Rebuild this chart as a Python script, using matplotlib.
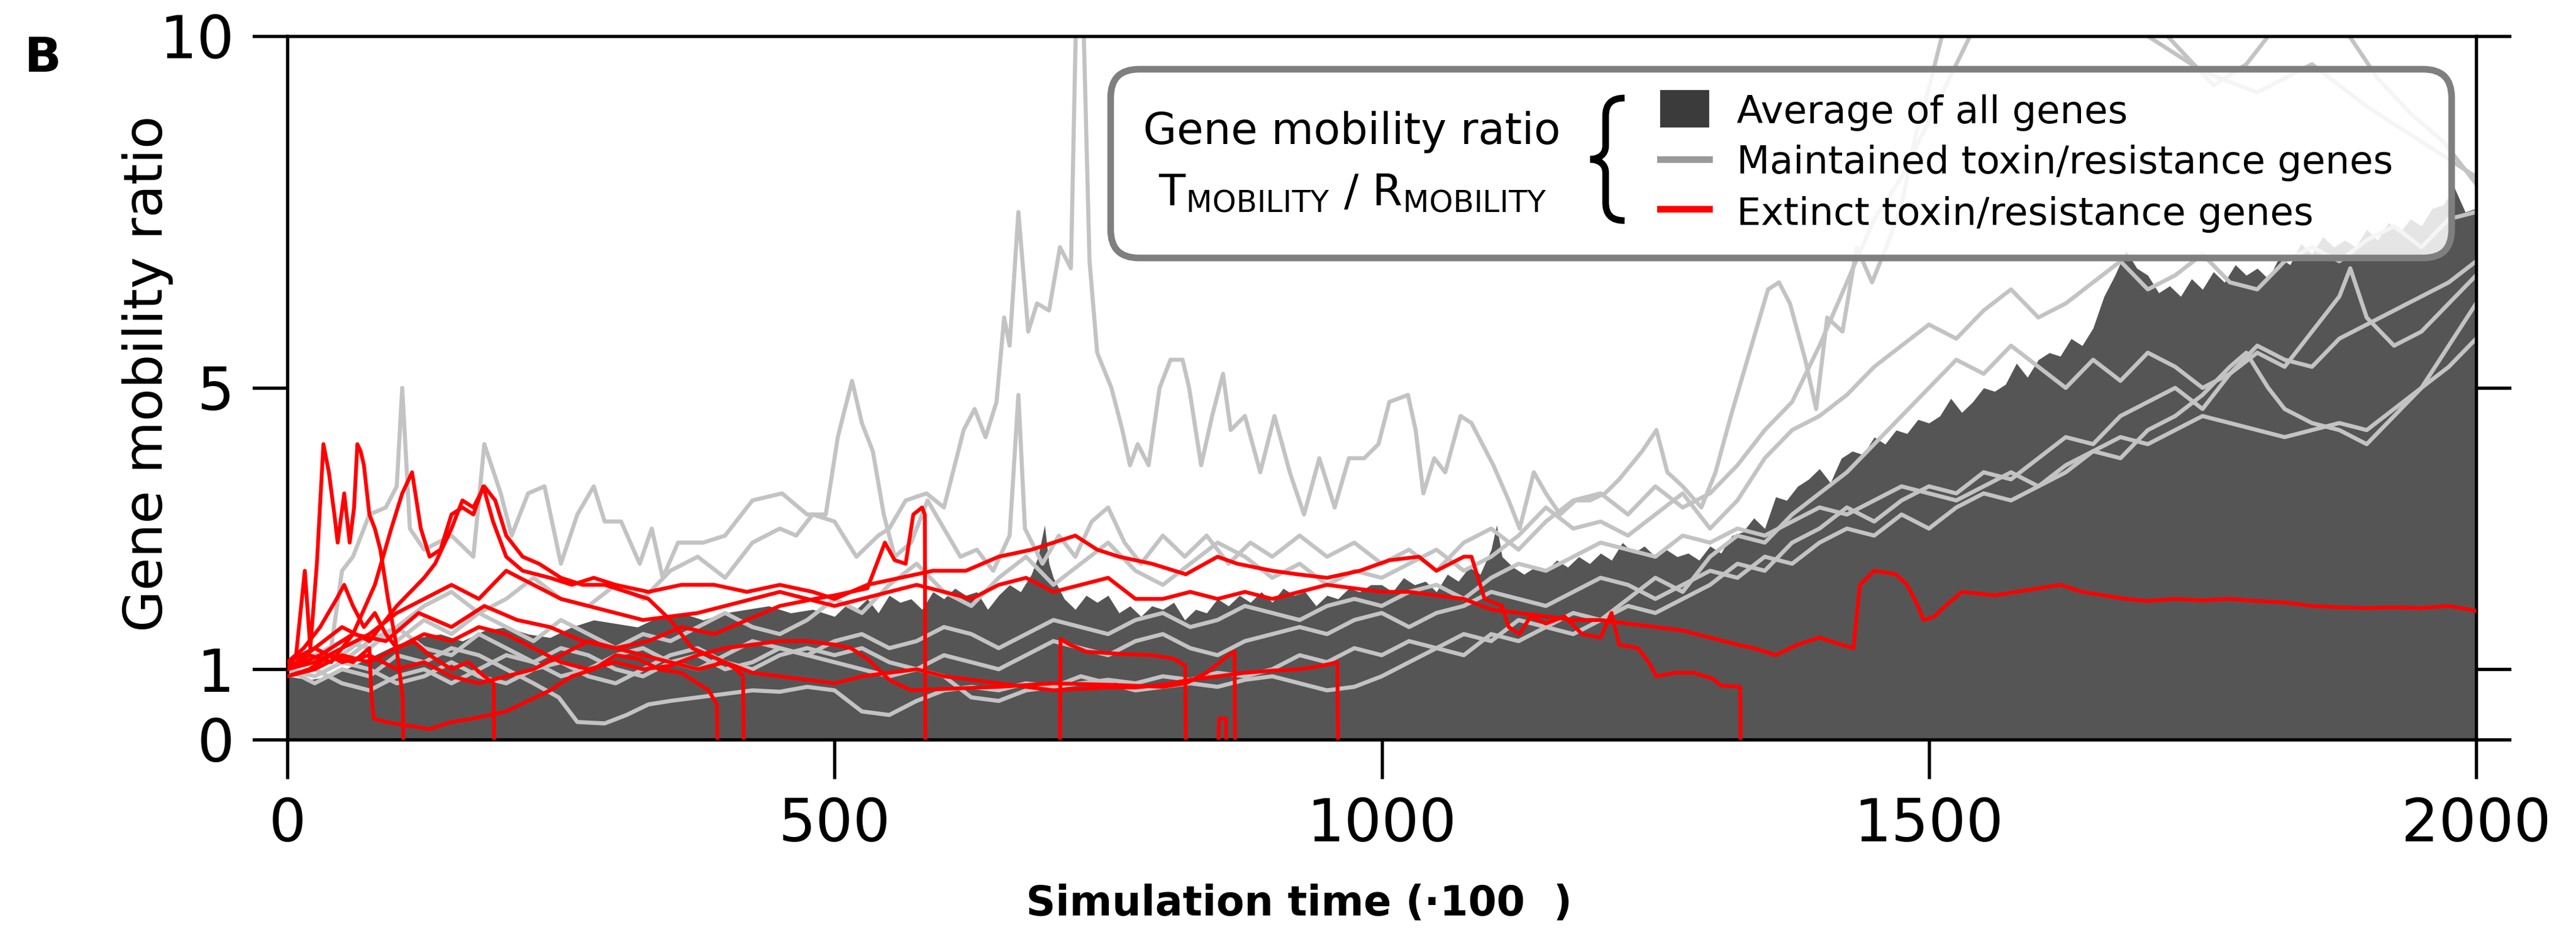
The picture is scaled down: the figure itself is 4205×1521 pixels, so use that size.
import matplotlib
matplotlib.use("Agg")
import matplotlib.pyplot as plt
from matplotlib.patches import FancyBboxPatch, Rectangle, PathPatch
from matplotlib.path import Path
from matplotlib.lines import Line2D

plt.rcParams['font.family'] = ['DejaVu Sans']
plt.rcParams['mathtext.fontset'] = 'dejavusans'

# ---------------- data (time in units of 100 steps, value = mobility ratio) -------------
x_ticks = [0, 500, 1000, 1500, 2000]
y_ticks = [0, 1, 5, 10]

# average of all genes (filled area)
average_all = [(0,0.9),(20,0.85),(40,0.9),(60,1.05),(80,1.2),(100,1.35),(120,1.45),(140,1.5),(160,1.4),(180,1.55),
               (200,1.6),(220,1.5),(240,1.45),(260,1.6),(280,1.7),(300,1.65),(320,1.6),(340,1.75),(360,1.8),(380,1.7),
               (400,1.8),(420,1.85),(440,1.9),(460,1.8),(480,1.85),
               (500,1.75),(510,1.9),(520,1.85),(530,2.0),(540,1.8),(550,2.05),(560,1.95),(570,2.0),(580,1.85),(590,2.1),
               (600,2.0),(610,2.15),(620,2.05),(630,2.1),(640,1.85),(650,2.05),(660,2.2),(670,2.1),(680,2.35),(686,2.6),
               (692,3.05),(696,2.5),(700,2.3),(710,2.0),(720,1.85),(730,2.05),(740,1.95),(750,2.05),(760,1.8),(770,1.9),
               (780,1.75),(790,1.9),(800,1.85),(810,1.95),(820,1.7),(830,1.85),(840,1.8),(850,2.0),(860,1.9),(870,2.05),
               (880,1.95),(890,2.1),(900,1.95),(910,2.15),(920,2.05),(930,2.1),(940,1.9),(950,2.05),(960,2.0),(970,2.15),
               (980,2.1),(990,2.2),
               (1000,2.2),(1010,2.1),(1020,2.3),(1030,2.2),(1040,2.25),(1050,2.1),(1060,2.35),(1070,2.25),(1080,2.45),
               (1090,2.35),(1100,2.7),(1105,3.05),(1110,2.6),(1120,2.45),(1130,2.35),(1140,2.45),(1150,2.4),(1160,2.55),
               (1170,2.45),(1180,2.6),(1190,2.5),(1200,2.65),(1210,2.55),(1220,2.8),(1230,2.65),(1240,2.75),(1250,2.6),
               (1260,2.7),(1270,2.6),(1280,2.65),(1290,2.55),
               (1300,2.75),(1310,2.65),(1320,2.9),(1330,2.95),(1340,3.15),(1350,3.0),(1360,3.45),(1370,3.4),(1380,3.6),
               (1390,3.7),(1400,3.85),(1410,3.65),(1420,4.0),(1430,4.1),(1440,4.05),(1450,4.3),(1460,4.2),(1470,4.4),
               (1480,4.35),(1490,4.55),(1500,4.5),(1510,4.6),(1520,4.85),(1530,4.65),(1540,4.8),(1550,5.0),(1560,4.95),
               (1570,5.05),(1580,5.35),(1590,5.15),(1600,5.4),(1610,5.5),(1620,5.45),(1630,5.7),(1640,5.6),(1650,5.85),
               (1660,6.3),(1670,6.6),(1680,6.95),(1690,6.7),(1700,6.6),(1710,6.35),(1720,6.45),(1730,6.3),(1740,6.55),
               (1750,6.4),(1760,6.65),(1770,6.5),(1780,6.75),(1790,6.6),(1800,6.7),(1810,6.55),(1820,6.85),(1830,6.75),
               (1840,7.05),(1850,6.9),(1860,7.15),(1870,7.0),(1880,7.1),(1890,7.0),(1900,7.25),(1910,7.1),(1920,7.35),
               (1930,7.2),(1940,7.4),(1950,7.3),(1960,7.55),(1970,7.6),(1980,7.85),(1990,7.5),(2000,7.55)]

# maintained toxin/resistance genes (grey lines)
maintained_1 = [(0,1.0),(20,1.1),(40,1.3),(50,2.4),(60,2.6),(75,3.2),(90,3.3),(100,3.6),(105,5.0),(112,3.0),(125,2.7),
                (150,2.9),(170,2.6),(180,4.2),(195,3.5),(205,2.9),(220,3.5),(235,3.6),(250,2.5),(265,3.2),(280,3.6),
                (290,3.1),(305,3.1),(322,2.5),(333,3.0),(343,2.3),(357,2.8),(380,2.8),(400,2.9),(425,3.4),(452,3.5),
                (475,3.2),(492,3.2),(503,4.3),(516,5.1),(525,4.5),(535,4.1),(545,3.2),(555,2.6),(570,2.8),(585,3.4),
                (600,3.0),(615,2.6),(630,2.7),(645,2.4),(660,2.9),(668,4.9),(674,3.0),(690,2.5),(705,2.9),(720,2.6),
                (735,3.1),(750,3.3),(765,2.8),(780,2.5),(800,2.9),(820,2.6),(840,2.9),(860,2.5),(880,2.8),(900,2.6),
                (925,2.9),(950,2.6),(975,2.8),(1000,2.5),(1025,2.7),(1050,2.4),(1075,2.8),(1100,3.0),(1125,2.7),(1150,3.1),
                (1175,3.4),(1200,3.5),(1225,3.2),(1250,3.6),(1275,3.3),(1300,3.5),(1325,3.9),(1350,4.4),(1375,4.8),(1400,5.6),
                (1425,6.5),(1450,7.4),(1475,8.0),(1500,8.8),(1525,9.6),(1550,10.4),(1600,10.8),(1650,10.5),(1700,10.0),
                (1750,9.5),(1800,9.2),(1850,9.6),(1900,9.0),(1950,8.5),(2000,8.0)]

maintained_2 = [(0,1.0),(25,1.2),(50,1.4),(75,1.3),(100,1.6),(125,1.9),(150,2.1),(175,1.8),(200,2.0),(225,2.3),(250,2.0),
                (275,1.9),(300,2.2),(325,2.0),(350,2.4),(375,2.6),(400,2.3),(425,2.8),(450,3.0),(465,2.9),(480,3.2),(500,3.1),
                (520,2.6),(540,2.9),(550,3.0),(565,3.4),(584,3.5),(600,3.3),(618,4.4),(628,4.7),(638,4.3),(648,4.8),(655,6.0),
                (660,5.6),(668,7.5),(677,5.8),(685,6.2),(696,6.1),(706,7.0),(716,6.7),(721,10.5),(727,10.5),(733,6.8),(740,5.5),
                (753,5.0),(763,4.4),(770,3.9),(777,4.2),(787,3.9),(797,5.0),(807,5.4),(818,5.4),(824,5.0),(835,3.9),(845,4.6),
                (855,5.2),(862,4.4),(875,4.6),(889,3.8),(902,4.6),(916,3.8),(929,3.2),(943,4.0),(957,3.3),(970,4.0),(984,4.0),
                (997,4.2),(1007,4.8),(1024,4.9),(1031,4.4),(1038,3.5),(1048,4.0),(1058,3.8),(1072,4.6),(1082,4.5),(1092,4.2),
                (1102,3.9),(1116,3.4),(1126,3.0),(1139,3.8),(1150,3.5),(1163,3.2),(1177,3.4),(1190,3.4),(1204,3.5),(1217,3.7),
                (1238,4.1),(1251,4.4),(1261,3.8),(1275,3.6),(1292,3.3),(1305,3.8),(1319,4.6),(1336,5.5),(1353,6.4),(1363,6.5),
                (1373,6.2),(1387,5.4),(1397,4.7),(1407,6.0),(1421,5.8),(1434,7.0),(1448,6.5),(1461,7.0),(1475,7.6),(1488,8.6),
                (1499,9.2),(1515,10.2),(1530,10.8),(1560,11.0),(1600,11.0),(1650,10.8),(1700,10.3),(1730,9.8),
                (1760,9.3),(1790,9.6),(1820,10.2),(1850,10.6),(1880,10.1),(1910,9.4),(1940,8.9),(1970,8.5),(2000,7.9)]

maintained_3 = [(0,0.9),(25,1.0),(50,1.2),(75,1.5),(100,1.4),(125,1.7),(150,1.5),(175,1.8),(200,1.6),(225,1.4),(250,1.7),
                (275,1.5),(300,1.3),(325,1.5),(350,1.4),(375,1.6),(400,1.8),(425,1.6),(450,1.5),(475,1.7),(500,2.0),(525,1.8),
                (550,2.2),(575,2.5),(600,2.1),(625,1.9),(650,2.3),(675,2.6),(700,2.2),(725,2.5),(750,2.8),(775,2.4),(800,2.2),
                (825,2.5),(850,2.8),(875,2.6),(900,2.3),(925,2.5),(950,2.2),(975,2.4),(1000,2.3),(1025,2.5),(1050,2.7),(1075,2.4),
                (1100,2.6),(1125,2.9),(1150,3.3),(1175,3.0),(1200,3.1),(1225,2.9),(1250,3.2),(1275,3.5),(1300,3.0),(1325,3.4),
                (1350,4.0),(1375,4.4),(1400,4.6),(1425,4.9),(1450,5.3),(1475,5.6),(1500,5.9),(1525,5.7),(1550,6.1),(1575,6.4),
                (1600,6.0),(1625,6.2),(1650,6.5),(1675,6.8),(1700,6.4),(1725,6.6),(1750,6.9),(1775,6.5),(1800,6.4),(1825,6.8),
                (1850,7.0),(1875,6.8),(1900,7.1),(1925,7.3),(1950,7.0),(1975,7.4),(2000,7.5)]

maintained_4 = [(0,1.0),(25,0.8),(50,1.0),(75,0.9),(100,1.2),(125,1.1),(150,1.3),(175,1.2),(200,1.0),(225,0.8),(248,0.6),
                (265,0.25),(290,0.23),(310,0.35),(330,0.5),(350,0.55),(375,0.6),(400,0.65),(425,0.7),(450,0.68),(475,0.75),
                (500,0.7),(525,0.4),(550,0.35),(575,0.55),(600,0.7),(625,0.75),(650,0.7),(675,0.8),(700,0.75),(725,0.8),
                (750,0.85),(775,0.8),(800,0.9),(825,0.85),(850,0.95),(875,0.9),(900,1.0),(925,1.2),(950,1.1),(975,1.3),
                (1000,1.2),(1025,1.4),(1050,1.3),(1075,1.5),(1100,1.4),(1125,1.7),(1150,1.6),(1175,1.5),(1200,1.7),(1225,1.9),
                (1250,1.8),(1275,2.0),(1300,2.2),(1325,2.5),(1350,2.4),(1375,2.8),(1400,3.0),(1425,3.3),(1450,3.1),(1475,3.4),
                (1500,3.6),(1525,3.5),(1550,3.8),(1575,3.7),(1600,4.0),(1625,4.3),(1650,4.2),(1675,4.6),(1700,4.8),(1725,5.0),
                (1750,4.7),(1775,5.2),(1800,5.5),(1825,5.3),(1850,5.8),(1875,6.3),(1885,6.7),(1900,6.0),(1925,5.6),(1950,5.8),
                (1975,6.2),(2000,6.6)]

maintained_5 = [(0,1.1),(25,1.3),(50,1.1),(75,1.4),(100,1.6),(125,1.3),(150,1.2),(175,1.5),(200,1.3),(225,1.1),(250,1.3),
                (275,1.2),(300,1.0),(325,0.9),(350,1.1),(375,1.2),(400,1.0),(425,1.1),(450,1.3),(475,1.2),(500,1.1),(525,1.0),
                (550,0.9),(575,1.0),(600,1.2),(625,1.1),(650,1.0),(675,1.2),(700,1.4),(725,1.3),(750,1.2),(775,1.4),(800,1.5),
                (825,1.3),(850,1.2),(875,1.4),(900,1.5),(925,1.6),(950,1.5),(975,1.7),(1000,1.8),(1025,1.6),(1050,1.8),(1075,1.9),
                (1100,2.1),(1125,2.0),(1150,1.9),(1175,2.1),(1200,2.3),(1225,2.2),(1250,2.0),(1275,2.2),(1300,2.4),(1325,2.3),
                (1350,2.6),(1375,2.5),(1400,2.8),(1425,3.0),(1450,2.9),(1475,3.2),(1500,3.0),(1525,3.3),(1550,3.5),(1575,3.4),
                (1600,3.6),(1625,3.8),(1650,4.1),(1675,4.0),(1700,4.4),(1725,4.6),(1750,4.9),(1775,5.3),(1790,5.5),(1810,5.0),
                (1825,4.7),(1850,4.5),(1875,4.4),(1900,4.2),(1925,4.6),(1950,5.0),(1975,5.6),(2000,6.2)]

maintained_6 = [(0,0.9),(25,1.0),(50,0.8),(75,0.7),(100,0.9),(125,1.0),(150,0.8),(175,1.0),(200,1.2),(225,1.1),(250,0.9),
                (275,1.0),(300,1.2),(325,1.3),(350,1.1),(375,1.0),(400,1.2),(425,1.4),(450,1.3),(475,1.2),(500,1.4),(525,1.5),
                (550,1.3),(575,1.4),(600,1.6),(625,1.5),(650,1.3),(675,1.5),(700,1.7),(725,1.6),(750,1.5),(775,1.7),(800,1.8),
                (825,1.6),(850,1.7),(875,1.9),(900,1.8),(925,1.7),(950,1.9),(975,2.0),(1000,1.9),(1025,2.1),(1050,2.2),(1075,2.0),
                (1100,2.3),(1125,2.5),(1150,2.4),(1175,2.6),(1200,2.8),(1225,2.7),(1250,2.6),(1275,2.9),(1300,2.8),(1325,3.0),
                (1350,2.9),(1375,3.1),(1400,3.3),(1425,3.2),(1450,3.4),(1475,3.6),(1500,3.5),(1525,3.4),(1550,3.6),(1575,3.8),
                (1600,3.6),(1625,3.9),(1650,4.1),(1675,4.3),(1700,4.2),(1725,4.4),(1750,4.6),(1775,4.5),(1800,4.4),(1825,4.3),
                (1850,4.4),(1875,4.5),(1900,4.4),(1925,4.7),(1950,5.0),(1975,5.3),(2000,5.7)]

maintained_7 = [(0,1.0),(25,0.9),(50,1.1),(75,1.0),(100,0.8),(125,0.9),(150,1.1),(175,0.9),(200,0.8),(225,1.0),(250,1.1),
                (275,0.9),(300,0.8),(325,1.0),(350,1.2),(375,1.3),(400,1.1),(425,1.0),(450,1.2),(475,1.3),(500,1.2),(525,1.3),
                (550,1.1),(575,1.0),(600,0.9),(625,0.6),(650,0.55),(675,0.7),(700,0.75),(725,0.9),(750,0.8),(775,0.7),(800,0.75),
                (825,0.8),(850,0.75),(875,0.85),(900,0.9),(925,0.8),(950,0.7),(975,0.75),(1000,0.9),(1025,1.1),(1050,1.3),
                (1075,1.2),(1100,1.5),(1125,1.4),(1150,1.6),(1175,1.8),(1200,1.7),(1225,2.0),(1250,2.3),(1275,2.1),(1300,2.6),
                (1325,2.9),(1350,2.8),(1375,3.2),(1400,3.5),(1425,3.8),(1450,4.2),(1475,4.6),(1500,5.0),(1525,5.4),(1550,5.2),
                (1575,5.6),(1600,5.3),(1625,5.0),(1650,5.4),(1675,5.1),(1700,5.5),(1725,5.3),(1750,5.0),(1775,5.2),(1800,5.6),
                (1825,5.4),(1850,5.3),(1875,5.7),(1900,5.9),(1925,6.1),(1950,6.3),(1975,6.5),(2000,6.8)]

# extinct toxin/resistance genes (red lines, drop to 0 when extinct)
extinct_1 = [(0,1.0),(8,1.2),(16,2.4),(21,1.3),(27,2.5),(33,4.2),(38,3.8),(43,3.2),(46,2.8),(52,3.5),(57,2.8),(61,3.3),
             (64,4.2),(67,4.1),(70,3.9),(75,3.2),(80,3.0),(85,2.7),(92,2.0),(99,1.4),(105.5,0.6),(106,0)]
extinct_2 = [(0,1.1),(15,1.3),(30,1.6),(45,2.0),(52,2.2),(60,1.9),(70,1.6),(80,1.8),(90,1.5),(100,1.3),(115,1.4),
             (130,1.2),(150,1.0),(165,1.1),(180,0.9),(188.5,0.8),(189,0)]
extinct_3 = [(0,0.9),(20,1.0),(40,1.2),(60,1.1),(75,1.3),(77,0.6),(79,0.3),(90,0.25),(110,0.2),(130,0.15),(150,0.25),
             (170,0.3),(185,0.35),(200,0.4),(220,0.55),(240,0.7),(260,0.9),(280,1.0),(300,1.2),(320,1.15),(340,1.0),
             (360,0.95),(375,0.8),(385,0.7),(392.5,0.5),(393,0)]
extinct_4 = [(0,1.0),(25,1.3),(50,1.6),(75,1.4),(100,1.9),(125,2.3),(135,2.5),(150,3.0),(160,3.4),(170,3.3),(180,3.6),
             (190,3.4),(200,2.9),(215,2.6),(230,2.5),(250,2.3),(270,2.2),(290,2.2),(310,2.1),(330,2.0),(350,1.7),(370,1.3),
             (385,1.2),(400,1.1),(410,1.0),(416.5,0.9),(417,0)]
extinct_5 = [(0,1.0),(30,1.2),(60,1.5),(90,1.4),(120,1.8),(150,1.6),(180,1.9),(210,1.7),(240,1.6),(270,1.4),(300,1.3),
             (330,1.4),(360,1.6),(390,1.5),(420,1.7),(450,1.9),(482,2.0),(500,2.05),(530,2.15),(546,2.8),(555,2.55),
             (565,2.5),(572,3.2),(580,3.3),(582.5,3.2),(583,0)]
extinct_6 = [(706,0),(706.5,1.43),(715,1.35),(730,1.25),(760,1.22),(790,1.2),(810,1.15),(820.5,1.05),(821,0)]
extinct_7 = [(0,0.9),(25,1.0),(50,1.2),(75,1.1),(100,1.3),(125,1.5),(150,1.4),(175,1.6),(200,1.5),(225,1.3),(250,1.1),
             (275,1.0),(300,1.1),(325,1.0),(350,1.05),(375,1.2),(400,1.3),(425,1.35),(450,1.4),(475,1.4),(500,1.35),
             (515,1.3),(530,1.15),(550,0.85),(570,0.7),(600,0.72),(650,0.75),(700,0.8),(750,0.78),(800,0.75),(821,0.8),
             (840,0.95),(860,1.2),(865.5,1.25),(866,0)]
extinct_8 = [(851,0),(851.5,0.3),(857.5,0.3),(858,0)]
extinct_9 = [(0,1.1),(25,1.3),(50,1.1),(75,1.2),(100,1.0),(125,1.1),(150,0.9),(175,0.8),(200,0.9),(225,1.0),(250,1.2),
             (275,1.4),(300,1.3),(325,1.2),(350,1.1),(375,1.0),(400,1.1),(425,0.95),(450,0.9),(475,0.85),(500,0.8),
             (525,0.9),(550,0.95),(575,1.0),(600,0.9),(625,0.85),(650,0.8),(675,0.75),(700,0.7),(725,0.72),(750,0.74),
             (775,0.74),(800,0.78),(825,0.85),(850,0.9),(875,0.95),(900,0.98),(925,1.0),(945,1.05),(959.5,1.1),(960,0)]
extinct_10 = [(0,1.0),(20,1.2),(40,1.1),(60,1.5),(80,2.2),(95,3.0),(105,3.5),(114,3.8),(122,3.0),(130,2.6),(140,2.7),
              (150,3.2),(160,3.3),(170,3.2),(179,3.6),(188,3.1),(200,2.6),(215,2.4),(240,2.3),(260,2.2),(280,2.3),
              (300,2.2),(330,2.1),(360,2.2),(390,2.2),(420,2.1),(450,2.2),(480,2.1),(500,2.0),(530,2.2),(560,2.3),
              (590,2.4),(620,2.4),(650,2.6),(680,2.7),(700,2.8),(720,2.9),(740,2.7),(760,2.6),(790,2.5),(821,2.35),
              (850,2.6),(868,2.5),(900,2.4),(923,2.35),(950,2.3),(980,2.4),(1007,2.55),(1034,2.6),(1050,2.4),(1075,2.6),
              (1082,2.6),(1094,2.0),(1110,1.9),(1116,1.6),(1126,1.5),(1136,1.75),(1150,1.65),(1167,1.75),(1183,1.5),
              (1200,1.45),(1210,1.8),(1217,1.35),(1234,1.3),(1244,1.1),(1251,0.9),(1268,0.95),(1285,0.95),(1302,0.87),
              (1310,0.77),(1327.5,0.75),(1328,0)]
extinct_11 = [(0,1.0),(25,1.1),(50,1.3),(75,1.5),(100,1.8),(125,2.0),(150,2.2),(175,2.0),(200,2.4),(225,2.2),(250,2.0),
              (275,1.9),(300,1.8),(325,1.7),(350,1.75),(375,1.8),(400,1.9),(425,2.0),(450,2.1),(475,2.0),(500,1.9),
              (525,2.0),(550,2.1),(575,2.2),(600,2.1),(625,2.0),(650,2.2),(675,2.3),(700,2.1),(725,2.2),(750,2.3),
              (775,2.0),(800,2.0),(825,2.1),(850,2.0),(875,2.1),(900,2.0),(925,2.1),(950,2.2),(975,2.15),(1000,2.1),
              (1025,2.1),(1050,2.05),(1075,2.0),(1100,1.85),(1125,1.8),(1150,1.75),(1175,1.7),(1200,1.7),(1225,1.65),
              (1250,1.6),(1275,1.55),(1300,1.45),(1325,1.35),(1340,1.3),(1360,1.2),(1380,1.35),(1400,1.45),(1420,1.35),
              (1431,1.3),(1437,2.2),(1450,2.4),(1470,2.35),(1480,2.2),(1490,1.9),(1495,1.7),(1505,1.75),(1515,1.9),
              (1530,2.1),(1560,2.05),(1580,2.1),(1600,2.15),(1620,2.2),(1640,2.1),(1660,2.05),(1680,2.0),(1700,1.97),
              (1725,2.0),(1750,1.98),(1775,2.0),(1800,1.97),(1825,1.95),(1850,1.9),(1875,1.88),(1900,1.87),(1925,1.88),
              (1950,1.87),(1975,1.9),(2000,1.83)]

maintained_series = [maintained_1, maintained_2, maintained_3, maintained_4, maintained_5, maintained_6, maintained_7]
extinct_series = [extinct_1, extinct_2, extinct_3, extinct_4, extinct_5, extinct_6, extinct_7, extinct_8,
                  extinct_9, extinct_10, extinct_11]

legend_title = "Gene mobility ratio"
legend_labels = ["Average of all genes", "Maintained toxin/resistance genes", "Extinct toxin/resistance genes"]

# ---------------- figure -------------
W, H, DPI = 4205, 1521, 300
fig = plt.figure(figsize=(W / DPI, H / DPI), dpi=DPI)
fig.patch.set_facecolor('white')

def fx(px):
    return px / W

def fy(py):
    return 1 - py / H

ax = fig.add_axes([fx(469), fy(1207), (4042 - 469) / W, (1207 - 59) / H])

FILL = '#555555'
GREY = '#c3c3c3'
RED = '#ff0000'

ft, fv = zip(*average_all)
ax.fill_between(ft, 0, fv, color=FILL, lw=0, zorder=1)
for s in maintained_series:
    t, v = zip(*s)
    ax.plot(t, v, color=GREY, lw=1.6, zorder=2, solid_joinstyle='round')
for s in extinct_series:
    t, v = zip(*s)
    ax.plot(t, v, color=RED, lw=1.5, zorder=3, solid_joinstyle='round')

ax.set_xlim(0, 2000)
ax.set_ylim(0, 10)
ax.set_xticks(x_ticks)
ax.set_yticks(y_ticks)
ax.set_xticklabels([str(v) for v in x_ticks])
ax.set_yticklabels([str(v) for v in y_ticks])
for sp in ax.spines.values():
    sp.set_linewidth(1.3)
ax.tick_params(axis='y', direction='out', length=13.7, width=1.3, labelsize=23, pad=7,
               left=True, right=True, labelright=False)
ax.tick_params(axis='x', direction='out', length=15.4, width=1.3, labelsize=23, pad=7,
               top=False, bottom=True)

ax.set_ylabel('Gene mobility ratio', fontsize=21)
ax.yaxis.set_label_coords(-0.052, 0.52)

fig.text(fx(2121), fy(1475), 'Simulation time (\u00b7100  )', ha='center', va='center',
         fontsize=16, fontweight='bold')
fig.text(fx(40), fy(95), 'B', ha='left', va='center', fontsize=19, fontweight='bold')

# ---------------- custom legend -------------
box = FancyBboxPatch((fx(1813), fy(421)), (4002 - 1813) / W, (421 - 113) / H,
                     boxstyle='round,pad=0,rounding_size=0.011', mutation_aspect=W / H,
                     transform=fig.transFigure, facecolor=(1, 1, 1, 0.85), edgecolor='#7f7f7f',
                     linewidth=2.6, zorder=10)
fig.add_artist(box)

fig.text(fx(2207), fy(235), legend_title, ha='center', va='baseline', fontsize=17, zorder=11)
fig.text(fx(2208), fy(335), r'$\mathrm{T}_{\mathrm{MOBILITY}}$ / $\mathrm{R}_{\mathrm{MOBILITY}}$',
         ha='center', va='baseline', fontsize=17, zorder=11)

# curly brace
bx = [(2652, 160), (2630, 160), (2621, 170), (2621, 190), (2621, 238),
      (2621, 252), (2611, 259), (2596, 260), (2611, 261), (2621, 268), (2621, 282),
      (2621, 330), (2621, 350), (2630, 360), (2652, 360)]
codes = [Path.MOVETO, Path.CURVE4, Path.CURVE4, Path.CURVE4, Path.LINETO,
         Path.CURVE4, Path.CURVE4, Path.CURVE4, Path.CURVE4, Path.CURVE4, Path.CURVE4,
         Path.LINETO, Path.CURVE4, Path.CURVE4, Path.CURVE4]
brace = PathPatch(Path([(fx(a), fy(b)) for a, b in bx], codes), transform=fig.transFigure,
                  facecolor='none', edgecolor='black', linewidth=2.6, zorder=11)
fig.add_artist(brace)

fig.add_artist(Rectangle((fx(2710), fy(208)), (2790 - 2710) / W, (208 - 147) / H,
                         transform=fig.transFigure, facecolor='#3b3b3b', edgecolor='none', zorder=11))
fig.add_artist(Line2D([fx(2710), fx(2790)], [fy(260), fy(260)], transform=fig.transFigure,
                      color='#999999', lw=2.6, zorder=11))
fig.add_artist(Line2D([fx(2710), fx(2790)], [fy(341), fy(341)], transform=fig.transFigure,
                      color=RED, lw=2.6, zorder=11))
for lab, yb in zip(legend_labels, [201, 283, 367]):
    fig.text(fx(2835), fy(yb), lab, ha='left', va='baseline', fontsize=15, zorder=11)

fig.savefig('out.png', dpi=DPI)
